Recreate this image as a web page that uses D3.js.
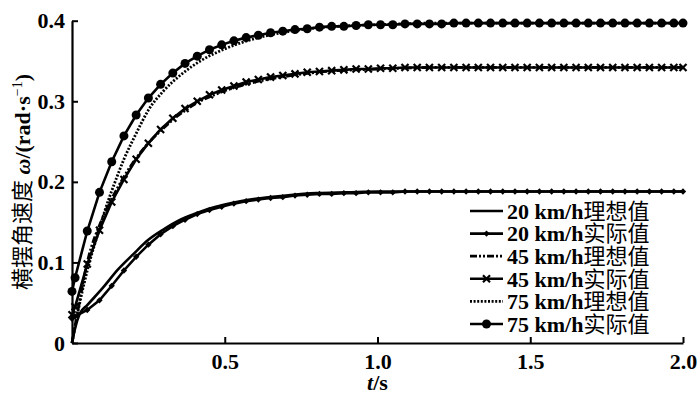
<!DOCTYPE html>
<html>
<head>
<meta charset="utf-8">
<script src="https://cdn.jsdelivr.net/npm/d3@7"></script>
<style>
  body { margin: 0; background: #fff; }
  svg { display: block; }
</style>
</head>
<body>
<div id="chart"></div>
<script>
// sample times of the measured (actual) curves, s
const tActual = [0, 0.01, 0.05, 0.09, 0.13, 0.17, 0.21, 0.25, 0.29, 0.33, 0.37, 0.41,
  0.45, 0.49, 0.53, 0.57, 0.61, 0.65, 0.69, 0.73, 0.77, 0.81, 0.85, 0.89, 0.93, 0.97,
  1.01, 1.05, 1.09, 1.13, 1.17, 1.21, 1.25, 1.29, 1.33, 1.37, 1.41, 1.45, 1.49, 1.53,
  1.57, 1.61, 1.65, 1.69, 1.73, 1.77, 1.81, 1.85, 1.89, 1.93, 1.97, 2.0];

const actual20 = [0.030, 0.033, 0.041, 0.053, 0.071, 0.090, 0.107, 0.122, 0.135, 0.145,
  0.153, 0.160, 0.165, 0.169, 0.173, 0.176, 0.178, 0.180, 0.181, 0.183, 0.184, 0.185,
  0.185, 0.186, 0.186, 0.187, 0.187, 0.187, 0.188, 0.188, 0.188, 0.188, 0.188, 0.188,
  0.188, 0.188, 0.188, 0.188, 0.188, 0.188, 0.188, 0.188, 0.188, 0.188, 0.188, 0.188,
  0.188, 0.188, 0.188, 0.188, 0.188, 0.188];

const actual45 = [0.035, 0.045, 0.098, 0.140, 0.175, 0.203, 0.228, 0.248, 0.265, 0.279,
  0.291, 0.300, 0.308, 0.314, 0.319, 0.324, 0.327, 0.330, 0.332, 0.334, 0.336, 0.337,
  0.338, 0.339, 0.340, 0.340, 0.341, 0.341, 0.342, 0.342, 0.342, 0.342, 0.342, 0.342,
  0.342, 0.342, 0.342, 0.342, 0.342, 0.342, 0.342, 0.342, 0.342, 0.342, 0.342, 0.342,
  0.342, 0.342, 0.342, 0.342, 0.342, 0.342];

const actual75 = [0.064, 0.081, 0.139, 0.187, 0.225, 0.257, 0.283, 0.304, 0.321, 0.335,
  0.347, 0.356, 0.364, 0.370, 0.375, 0.379, 0.382, 0.385, 0.387, 0.389, 0.390, 0.392,
  0.393, 0.393, 0.394, 0.395, 0.395, 0.395, 0.396, 0.396, 0.396, 0.396, 0.397, 0.397,
  0.397, 0.397, 0.397, 0.397, 0.397, 0.397, 0.397, 0.397, 0.397, 0.397, 0.397, 0.397,
  0.397, 0.397, 0.397, 0.397, 0.397, 0.397];

// ideal curves, read at their own times
const tIdeal20 = [0, 0.01, 0.025, 0.05, 0.1, 0.15, 0.2, 0.25, 0.3, 0.35, 0.4, 0.45, 0.5, 0.6, 0.7, 0.8, 0.9, 1.0, 1.2, 1.5, 2.0];
const ideal20 = [0, 0.018, 0.036, 0.047, 0.068, 0.091, 0.110, 0.128, 0.141, 0.152, 0.160, 0.167, 0.172, 0.179, 0.183, 0.186, 0.187, 0.188, 0.188, 0.188, 0.188];

const tIdeal45 = [0, 0.02, 0.05, 0.1, 0.15, 0.2, 0.25, 0.3, 0.35, 0.4, 0.5, 0.6, 0.7, 0.8, 1.0, 1.2, 1.5, 2.0];
const ideal45 = [0, 0.042, 0.100, 0.155, 0.193, 0.224, 0.248, 0.267, 0.283, 0.296, 0.313, 0.324, 0.331, 0.336, 0.340, 0.342, 0.342, 0.342];

const tIdeal75 = [0, 0.02, 0.05, 0.085, 0.11, 0.14, 0.17, 0.21, 0.25, 0.3, 0.36, 0.42, 0.5, 0.6, 0.7, 0.8, 1.0, 1.2, 1.5, 2.0];
const ideal75 = [0, 0.040, 0.090, 0.136, 0.167, 0.199, 0.228, 0.260, 0.289, 0.313, 0.334, 0.350, 0.365, 0.378, 0.386, 0.391, 0.395, 0.397, 0.397, 0.397];

const xTicks = [0.5, 1.0, 1.5, 2.0];
const xTickLabels = ['0.5', '1.0', '1.5', '2.0'];
const yTicks = [0, 0.1, 0.2, 0.3, 0.4];
const yTickLabels = ['0', '0.1', '0.2', '0.3', '0.4'];

const legendLabels = ['20 km/h', '20 km/h', '45 km/h', '45 km/h', '75 km/h', '75 km/h'];
const legendKinds = ['理想值', '实际值', '理想值', '实际值', '理想值', '实际值'];

const width = 700;
const height = 397;
const serif = "'Liberation Serif', 'Times New Roman', serif";
const cjk = "'Noto Sans CJK SC', sans-serif";

const svg = d3.select('#chart')
  .append('svg')
  .attr('width', width)
  .attr('height', height);

const x = d3.scaleLinear().domain([0, 2]).range([72, 683]);
const y = d3.scaleLinear().domain([0, 0.4]).range([343, 20.7]);

// series descriptions (style only)
const series = [
  { t: tIdeal20, v: ideal20, dash: null, marker: null, curve: d3.curveMonotoneX },
  { t: tActual, v: actual20, dash: null, marker: 'diamond', curve: d3.curveLinear },
  { t: tIdeal45, v: ideal45, dash: '7,2,2,2,2,2', marker: null, curve: d3.curveMonotoneX },
  { t: tActual, v: actual45, dash: null, marker: 'times', curve: d3.curveLinear },
  { t: tIdeal75, v: ideal75, dash: '2,1.6', marker: null, curve: d3.curveMonotoneX },
  { t: tActual, v: actual75, dash: null, marker: 'circle', curve: d3.curveLinear }
];

function drawMarker(g, kind, cx, cy) {
  if (kind === 'diamond') {
    g.append('path')
      .attr('d', d3.symbol(d3.symbolSquare, 20)())
      .attr('transform', `translate(${cx},${cy}) rotate(45)`)
      .attr('fill', '#000');
  } else if (kind === 'times') {
    g.append('path')
      .attr('d', d3.symbol(d3.symbolTimes, 34)())
      .attr('transform', `translate(${cx},${cy})`)
      .attr('fill', 'none')
      .attr('stroke', '#000')
      .attr('stroke-width', 2.2);
  } else if (kind === 'circle') {
    g.append('circle')
      .attr('cx', cx)
      .attr('cy', cy)
      .attr('r', 4.5)
      .attr('fill', '#000');
  }
}

const plot = svg.append('g');

series.forEach((s) => {
  const pts = s.t.map((t, i) => [t, s.v[i]]);
  const line = d3.line()
    .x((d) => x(d[0]))
    .y((d) => y(d[1]))
    .curve(s.curve);
  plot.append('path')
    .attr('d', line(pts))
    .attr('fill', 'none')
    .attr('stroke', '#000')
    .attr('stroke-width', s.dash ? 2.8 : 2.6)
    .attr('stroke-dasharray', s.dash);
  if (s.marker) {
    const mg = plot.append('g');
    pts.forEach((d) => drawMarker(mg, s.marker, x(d[0]), y(d[1])));
  }
});

// x axis
const xAxis = svg.append('g')
  .attr('transform', `translate(0,${y(0)})`)
  .call(d3.axisBottom(x)
    .tickValues(xTicks)
    .tickFormat((d, i) => xTickLabels[i])
    .tickSize(-6)
    .tickSizeOuter(0)
    .tickPadding(10));

// y axis
const yAxis = svg.append('g')
  .attr('transform', `translate(${x(0)},0)`)
  .call(d3.axisLeft(y)
    .tickValues(yTicks)
    .tickFormat((d, i) => yTickLabels[i])
    .tickSize(-6)
    .tickSizeOuter(0)
    .tickPadding(7));

[xAxis, yAxis].forEach((g) => {
  g.select('.domain').attr('stroke', '#000').attr('stroke-width', 2.2);
  g.selectAll('.tick line').attr('stroke', '#000').attr('stroke-width', 2);
  g.selectAll('.tick text')
    .attr('fill', '#000')
    .style('font-family', serif)
    .style('font-size', '22px')
    .style('font-weight', 'bold');
});

// axis titles
const xTitle = svg.append('text')
  .attr('x', x(1))
  .attr('y', 390)
  .attr('text-anchor', 'middle')
  .style('font-family', serif)
  .style('font-size', '22px')
  .style('font-weight', 'bold');
xTitle.append('tspan').style('font-style', 'italic').text('t');
xTitle.append('tspan').text('/s');

const yTitle = svg.append('text')
  .attr('transform', 'translate(30,182) rotate(-90)')
  .attr('text-anchor', 'middle')
  .style('font-size', '22px');
yTitle.append('tspan').style('font-family', cjk).text('横摆角速度');
yTitle.append('tspan').style('font-family', serif).style('font-weight', 'bold')
  .style('font-style', 'italic').text(' ω');
yTitle.append('tspan').style('font-family', serif).style('font-weight', 'bold')
  .text('/(rad·s');
yTitle.append('tspan').style('font-family', serif).style('font-size', '14px')
  .attr('dy', -8).text('−1');
yTitle.append('tspan').style('font-family', serif).style('font-weight', 'bold')
  .attr('dy', 8).text(')');

// legend
const legend = svg.append('g');
series.forEach((s, i) => {
  const ly = 211 + i * 22.6;
  legend.append('line')
    .attr('x1', 470).attr('x2', 503)
    .attr('y1', ly).attr('y2', ly)
    .attr('stroke', '#000')
    .attr('stroke-width', s.dash ? 2.8 : 2.6)
    .attr('stroke-dasharray', s.dash);
  if (s.marker) drawMarker(legend, s.marker, 486.5, ly);
  const txt = legend.append('text')
    .attr('x', 507)
    .attr('y', ly)
    .attr('dy', '0.35em')
    .style('font-size', '22px');
  txt.append('tspan').style('font-family', serif).style('font-weight', 'bold').text(legendLabels[i]);
  txt.append('tspan').style('font-family', cjk).text(legendKinds[i]);
});
</script>
</body>
</html>
